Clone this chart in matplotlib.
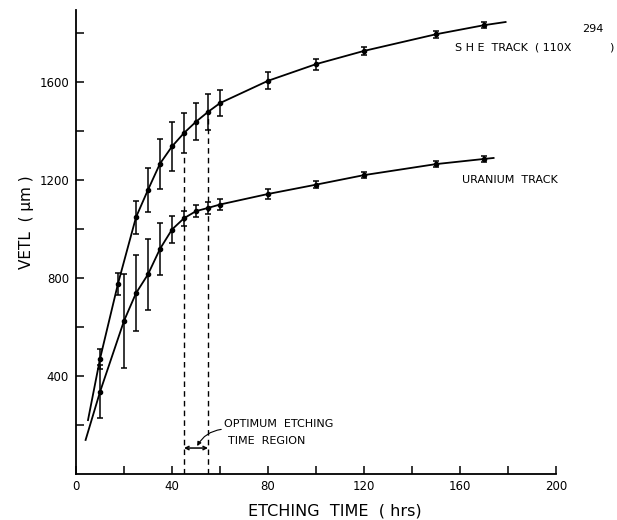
import numpy as np
import matplotlib
matplotlib.use("Agg")
import matplotlib.pyplot as plt

"""
Etching length vs etching time for SHE and uranium tracks.
Values read off the scanned figure.
"""

# SHE track (upper curve)
she_time = [10, 17.5, 25, 30, 35, 40, 45, 50, 55, 60, 80, 100, 120, 150, 170]
she_vetl = [470, 777, 1048, 1160, 1267, 1337, 1392, 1438, 1478, 1514, 1605, 1673, 1727, 1795, 1832]
she_err = [40, 45, 67, 90, 102, 100, 83, 75, 75, 52, 35, 22, 18, 15, 12]
# where the hand-drawn curve starts and stops
she_line_start = (5, 220)
she_line_end = (179, 1845)

# Uranium track (lower curve)
u_time = [10, 20, 25, 30, 35, 40, 45, 50, 55, 60, 80, 100, 120, 150, 170]
u_vetl = [335, 625, 738, 815, 919, 998, 1044, 1073, 1086, 1100, 1143, 1181, 1220, 1265, 1286]
u_err = [108, 193, 156, 146, 107, 55, 30, 25, 25, 22, 20, 15, 12, 12, 12]
u_line_start = (4, 139)
u_line_end = (174, 1290)

# Optimum etching time region (hrs) and the height the dashed lines reach
opt_region = [45, 55]
opt_dash_top = [1307, 1478]

x_major = [0, 40, 80, 120, 160, 200]
y_major = [400, 800, 1200, 1600]

fig = plt.figure(figsize=(6.17, 5.2), dpi=100)
ax = fig.add_axes([76 / 617, 46 / 520, 480 / 617, 464 / 520])
ax.set_xlim(0, 200)
ax.set_ylim(0, 1894)

# curves
she_x = [she_line_start[0]] + she_time + [she_line_end[0]]
she_y = [she_line_start[1]] + she_vetl + [she_line_end[1]]
ax.plot(she_x, she_y, color="k", lw=1.3)
u_x = [u_line_start[0]] + u_time + [u_line_end[0]]
u_y = [u_line_start[1]] + u_vetl + [u_line_end[1]]
ax.plot(u_x, u_y, color="k", lw=1.3)

# points with error bars
for t, v, e in [(she_time, she_vetl, she_err), (u_time, u_vetl, u_err)]:
    ax.errorbar(t, v, yerr=e, fmt="o", ms=3, color="k", ecolor="k",
                elinewidth=1.1, capsize=2.2, capthick=1.1)

# dashed lines marking the optimum region
for xv, top in zip(opt_region, opt_dash_top):
    ax.plot([xv, xv], [0, top], color="k", lw=1, linestyle=(0, (4, 3)))

# bracket between the dashed lines
ax.annotate("", xy=(opt_region[0], 106), xytext=(opt_region[1], 106),
            arrowprops=dict(arrowstyle="<->", lw=1.1, color="k",
                            mutation_scale=6, shrinkA=0, shrinkB=0))
ax.annotate("", xy=(50.5, 114), xytext=(60.5, 182),
            arrowprops=dict(arrowstyle="-|>", lw=0.8, color="k",
                            mutation_scale=6, shrinkA=0, shrinkB=0,
                            connectionstyle="arc3,rad=0.25"))

# text labels
ax.text(61.5, 204, "OPTIMUM  ETCHING", fontsize=8, va="center", ha="left")
ax.text(63.5, 134, "TIME  REGION", fontsize=8, va="center", ha="left")
ax.text(158, 1739, "S H E  TRACK  ( 110X", fontsize=8, va="center", ha="left")
ax.text(211, 1817, "294", fontsize=8, va="center", ha="left")
ax.text(222, 1739, ")", fontsize=8, va="center", ha="left")
ax.text(161, 1202, "URANIUM  TRACK", fontsize=8, va="center", ha="left")

# axes styling
for side in ["top", "right"]:
    ax.spines[side].set_visible(False)
for side in ["left", "bottom"]:
    ax.spines[side].set_linewidth(1.3)

ax.set_xticks(x_major)
ax.set_xticks(np.arange(20, 200, 40), minor=True)
ax.set_yticks(y_major)
ax.set_yticks(np.arange(200, 1894, 400), minor=True)
ax.tick_params(which="both", direction="in", length=5.5, width=1.1, labelsize=8.5)
ax.tick_params(axis="x", pad=4)
ax.tick_params(axis="y", pad=5)

fig.text(335 / 617, 1 - 511 / 520, "ETCHING  TIME  ( hrs)", fontsize=11.5,
         ha="center", va="center")
fig.text(27 / 617, 1 - 222 / 520, "VETL  ( μm )", fontsize=11,
         ha="center", va="center", rotation=90)

fig.savefig("out.png", dpi=100)
